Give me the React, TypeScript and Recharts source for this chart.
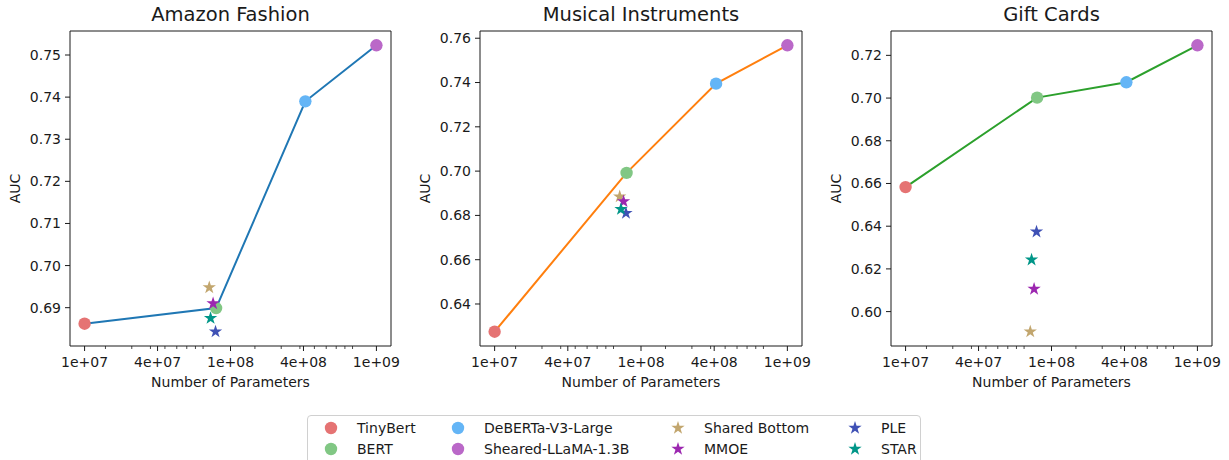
import React from 'react'
import { ScatterChart, Scatter, XAxis, YAxis, ReferenceArea } from 'recharts'

// models on the scaling line
const MODELS = ['TinyBert', 'BERT', 'DeBERTa-V3-Large', 'Sheared-LLaMA-1.3B']
const MODEL_PARAMS = [14.5e6, 110e6, 435e6, 1.3e9]
const MODEL_COLORS = ['#e57373', '#81c784', '#64b5f6', '#ba68c8']

// multi-task baselines (stars)
const BASELINES = ['Shared Bottom', 'MMOE', 'PLE', 'STAR']
const BASELINE_PARAMS = [99e6, 105e6, 109e6, 101e6]
const BASELINE_COLORS = ['#c2a66e', '#9c27b0', '#3f51b5', '#009688']

const FASHION_MODEL_AUC = [0.6862, 0.6899, 0.739, 0.7523]
const FASHION_BASELINE_AUC = [0.6948, 0.691, 0.6843, 0.6875]
const MUSIC_MODEL_AUC = [0.6275, 0.6992, 0.7395, 0.7568]
const MUSIC_BASELINE_AUC = [0.6885, 0.6863, 0.681, 0.6828]
const GIFT_MODEL_AUC = [0.6583, 0.7002, 0.7074, 0.7247]
const GIFT_BASELINE_AUC = [0.5906, 0.6106, 0.6374, 0.6243]

const FASHION_Y_TICKS = [0.69, 0.7, 0.71, 0.72, 0.73, 0.74, 0.75]
const MUSIC_Y_TICKS = [0.64, 0.66, 0.68, 0.7, 0.72, 0.74, 0.76]
const GIFT_Y_TICKS = [0.6, 0.62, 0.64, 0.66, 0.68, 0.7, 0.72]

// five log-spaced ticks between smallest and largest model
const X_TICKS = [1.45e7, 4.4623e7, 1.3732e8, 4.2257e8, 1.3e9]
const X_TICK_LABELS = ['1e+07', '4e+07', '1e+08', '4e+08', '1e+09']
const X_MINOR_TICKS = [2e7, 3e7, 4e7, 5e7, 6e7, 7e7, 8e7, 9e7, 2e8, 3e8, 4e8, 5e8, 6e8, 7e8, 8e8, 9e8]
const X_DOMAIN = [1.1582e7, 1.6276e9]

const INK = '#1a1a1a'
const FONT = '"DejaVu Sans", sans-serif'

function padDomain(values: number[]) {
  const lo = Math.min(...values)
  const hi = Math.max(...values)
  const pad = (hi - lo) * 0.05
  return [lo - pad, hi + pad]
}

function starPath(cx: number, cy: number, R: number) {
  const r = R * 0.382
  let d = ''
  for (let i = 0; i < 10; i++) {
    const rad = i % 2 === 0 ? R : r
    const a = -Math.PI / 2 + (i * Math.PI) / 5
    d += (i === 0 ? 'M' : 'L') + (cx + rad * Math.cos(a)).toFixed(2) + ',' + (cy + rad * Math.sin(a)).toFixed(2)
  }
  return d + 'Z'
}

const Dot = (color: string) => (p: any) => <circle cx={p.cx} cy={p.cy} r={6.2} fill={color} />
const Star = (color: string) => (p: any) => <path d={starPath(p.cx, p.cy, 7)} fill={color} />

function XTick(props: any) {
  const { x, y, payload } = props
  const idx = X_TICKS.indexOf(payload.value)
  const major = idx >= 0
  return (
    <g>
      <line x1={x} x2={x} y1={y} y2={y + (major ? 5 : 3)} stroke={INK} strokeWidth={major ? 1 : 0.8} />
      {major && (
        <text x={x} y={y + 21} textAnchor="middle" fontSize={14} fill={INK}>
          {X_TICK_LABELS[idx]}
        </text>
      )}
    </g>
  )
}

interface PanelProps {
  title: string
  left: number
  right: number
  lineColor: string
  modelAuc: number[]
  baselineAuc: number[]
  yTicks: number[]
}

function Panel({ title, left, right, lineColor, modelAuc, baselineAuc, yTicks }: PanelProps) {
  const yDomain = padDomain([...modelAuc, ...baselineAuc])
  const lineData = MODEL_PARAMS.map((x, i) => ({ x, y: modelAuc[i] }))
  const width = 410
  return (
    <div style={{ position: 'absolute', left, top: 0, width, height: 400 }}>
      <div
        style={{
          position: 'absolute', left: 70, width: width - 70 - right, top: 4,
          textAlign: 'center', fontSize: 19.5, lineHeight: '22px', color: INK,
        }}
      >
        {title}
      </div>
      <ScatterChart width={width} height={400} margin={{ top: 31, right, bottom: 0, left: 0 }}>
        <XAxis
          type="number" dataKey="x" scale="log" domain={X_DOMAIN} allowDataOverflow
          ticks={[...X_TICKS, ...X_MINOR_TICKS]} interval={0} tick={<XTick />}
          tickLine={false} axisLine={false} tickSize={0} tickMargin={0} height={54}
          label={{ value: 'Number of Parameters', position: 'insideBottom', offset: 13, fill: INK, fontSize: 14 }}
        />
        <YAxis
          type="number" dataKey="y" domain={yDomain} allowDataOverflow ticks={yTicks} interval={0}
          width={70} axisLine={false} tickSize={5} tickMargin={4}
          tickLine={{ stroke: INK }} tick={{ fill: INK, fontSize: 14 }}
          tickFormatter={(v: number) => v.toFixed(2)}
          label={{ value: 'AUC', angle: -90, position: 'insideLeft', offset: 15, fill: INK, fontSize: 14, style: { textAnchor: 'middle' } }}
        />
        <ReferenceArea
          x1={X_DOMAIN[0]} x2={X_DOMAIN[1]} y1={yDomain[0]} y2={yDomain[1]}
          fill="none" fillOpacity={0} stroke={INK} strokeWidth={1} ifOverflow="visible"
        />
        <Scatter data={lineData} line={{ stroke: lineColor, strokeWidth: 2 }} shape={() => <g />} isAnimationActive={false} />
        {MODELS.map((m, i) => (
          <Scatter key={m} name={m} data={[{ x: MODEL_PARAMS[i], y: modelAuc[i] }]} shape={Dot(MODEL_COLORS[i])} isAnimationActive={false} />
        ))}
        {BASELINES.map((b, i) => (
          <Scatter key={b} name={b} data={[{ x: BASELINE_PARAMS[i], y: baselineAuc[i] }]} shape={Star(BASELINE_COLORS[i])} isAnimationActive={false} />
        ))}
      </ScatterChart>
    </div>
  )
}

// legend is laid out column-major, 4 columns x 2 rows
const LEGEND_ITEMS = [
  { name: MODELS[0], color: MODEL_COLORS[0], star: false },
  { name: MODELS[1], color: MODEL_COLORS[1], star: false },
  { name: MODELS[2], color: MODEL_COLORS[2], star: false },
  { name: MODELS[3], color: MODEL_COLORS[3], star: false },
  { name: BASELINES[0], color: BASELINE_COLORS[0], star: true },
  { name: BASELINES[1], color: BASELINE_COLORS[1], star: true },
  { name: BASELINES[2], color: BASELINE_COLORS[2], star: true },
  { name: BASELINES[3], color: BASELINE_COLORS[3], star: true },
]

function ChartLegend() {
  return (
    <div
      style={{
        position: 'absolute', left: 307, top: 415, width: 614, height: 52,
        border: '1px solid #d0d0d0', borderRadius: 4, boxSizing: 'border-box',
        display: 'grid', gridTemplateColumns: '127px 220px 177px auto', gridTemplateRows: '21px 21px',
        gridAutoFlow: 'column', paddingLeft: 14, paddingTop: 1, fontSize: 14, color: INK,
      }}
    >
      {LEGEND_ITEMS.map(it => (
        <div key={it.name} style={{ display: 'flex', alignItems: 'center', whiteSpace: 'nowrap' }}>
          <svg width={18} height={18} style={{ marginRight: 17 }}>
            {it.star ? <path d={starPath(9, 9, 7)} fill={it.color} /> : <circle cx={9} cy={9} r={6.2} fill={it.color} />}
          </svg>
          <span>{it.name}</span>
        </div>
      ))}
    </div>
  )
}

export default function App() {
  return (
    <div style={{ position: 'absolute', left: 0, top: 0, width: 1229, height: 460, background: '#fff', fontFamily: FONT, overflow: 'hidden' }}>
      <Panel title="Amazon Fashion" left={0} right={19} lineColor="#1f77b4" modelAuc={FASHION_MODEL_AUC} baselineAuc={FASHION_BASELINE_AUC} yTicks={FASHION_Y_TICKS} />
      <Panel title="Musical Instruments" left={410} right={18} lineColor="#ff7f0e" modelAuc={MUSIC_MODEL_AUC} baselineAuc={MUSIC_BASELINE_AUC} yTicks={MUSIC_Y_TICKS} />
      <Panel title="Gift Cards" left={821} right={19} lineColor="#2ca02c" modelAuc={GIFT_MODEL_AUC} baselineAuc={GIFT_BASELINE_AUC} yTicks={GIFT_Y_TICKS} />
      <ChartLegend />
    </div>
  )
}
